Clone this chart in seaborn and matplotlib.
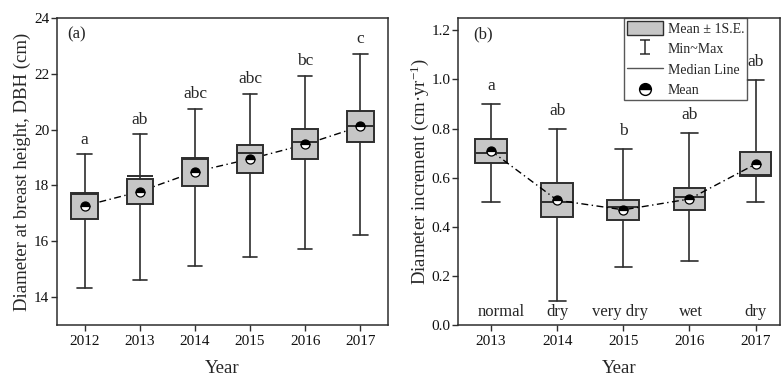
import numpy as np
import pandas as pd
import matplotlib
matplotlib.use("Agg")
import matplotlib.pyplot as plt
import seaborn as sns
from matplotlib.path import Path
from matplotlib.patches import Patch
from matplotlib.lines import Line2D

# ---- panel (a): DBH by year ----
years_a = ["2012", "2013", "2014", "2015", "2016", "2017"]
mean_a = [17.27, 17.78, 18.49, 18.95, 19.47, 20.12]
se_a = [0.465, 0.45, 0.495, 0.51, 0.54, 0.56]
median_a = [17.71, 18.33, 18.94, 19.18, 19.54, 20.12]
min_a = [14.32, 14.62, 15.12, 15.42, 15.73, 16.22]
max_a = [19.12, 19.83, 20.74, 21.29, 21.93, 22.72]
letters_a = ["a", "ab", "abc", "abc", "bc", "c"]

# ---- panel (b): diameter increment by year ----
years_b = ["2013", "2014", "2015", "2016", "2017"]
mean_b = [0.709, 0.508, 0.469, 0.513, 0.655]
se_b = [0.048, 0.0685, 0.0415, 0.0455, 0.050]
median_b = [0.701, 0.499, 0.479, 0.522, 0.609]
min_b = [0.499, 0.099, 0.237, 0.260, 0.499]
max_b = [0.899, 0.800, 0.717, 0.782, 0.999]
letters_b = ["a", "ab", "b", "ab", "ab"]
climate_b = ["normal", "dry", "very dry", "wet", "dry"]

sns.set_theme(style="ticks")
plt.rcParams["font.family"] = ["Liberation Serif", "DejaVu Serif"]
plt.rcParams["mathtext.fontset"] = "custom"
plt.rcParams["mathtext.rm"] = "Liberation Serif"
plt.rcParams["mathtext.default"] = "regular"

EDGE = "#2e2e2e"
FILL = "#c6c6c6"

fig = plt.figure(figsize=(7.82, 3.76), dpi=100)
ax_a = fig.add_axes([57 / 782, 51 / 376, 331 / 782, 307 / 376])
ax_b = fig.add_axes([458 / 782, 51 / 376, 322 / 782, 307 / 376])


def draw_panel(ax, years, mean, se, median, vmin, vmax, line_on_top):
    stats = []
    for m, s, md, lo, hi in zip(mean, se, median, vmin, vmax):
        stats.append(dict(med=md, q1=m - s, q3=m + s, whislo=lo, whishi=hi,
                          mean=m, fliers=[]))
    pos = np.arange(len(years))
    ax.bxp(stats, positions=pos, widths=0.48, patch_artist=True,
           showfliers=False, showmeans=False,
           boxprops=dict(facecolor=FILL, edgecolor=EDGE, linewidth=1.4),
           medianprops=dict(color=EDGE, linewidth=1.4),
           whiskerprops=dict(color=EDGE, linewidth=1.2),
           capprops=dict(color=EDGE, linewidth=1.2),
           capwidths=0.26)
    df = pd.DataFrame({"x": pos, "mean": mean})
    sns.lineplot(data=df, x="x", y="mean", ax=ax, color="black",
                 linewidth=1.0, linestyle=(0, (5, 2.5, 1, 2.5)),
                 zorder=4 if line_on_top else 1)
    ax.plot(pos, mean, linestyle="none", marker="o", markersize=6.5,
            fillstyle="top", markerfacecolor="black",
            markerfacecoloralt="white", markeredgecolor="black",
            markeredgewidth=0.9, zorder=5)
    ax.set_xticks(pos)
    ax.set_xticklabels(years)
    ax.set_xlim(-0.5, len(years) - 0.5)
    for side in ["top", "right", "left", "bottom"]:
        ax.spines[side].set_visible(True)
        ax.spines[side].set_color(EDGE)
        ax.spines[side].set_linewidth(1.1)
    ax.tick_params(direction="out", length=4, width=1.0, color=EDGE,
                   labelsize=11, labelcolor="#111111", pad=3)
    ax.tick_params(axis="y", pad=1.5)
    ax.set_xlabel("Year", fontsize=13.5, labelpad=9)
    return pos


pos_a = draw_panel(ax_a, years_a, mean_a, se_a, median_a, min_a, max_a, False)
ax_a.set_ylim(13, 24)
ax_a.set_yticks([14, 16, 18, 20, 22, 24])
ax_a.set_ylabel("Diameter at breast height, DBH (cm)", fontsize=13.5,
                labelpad=2)
for x, hi, lab in zip(pos_a, max_a, letters_a):
    ax_a.text(x, hi + 0.52, lab, ha="center", va="center", fontsize=12.5)
ax_a.text(0.03, 0.945, "(a)", transform=ax_a.transAxes, fontsize=12,
          ha="left", va="center")

pos_b = draw_panel(ax_b, years_b, mean_b, se_b, median_b, min_b, max_b, True)
ax_b.set_xlim(-0.5, 4.37)
ax_b.set_ylim(0, 1.25)
ax_b.set_yticks([0.0, 0.2, 0.4, 0.6, 0.8, 1.0, 1.2])
ax_b.set_yticklabels([f"{v:.1f}" for v in [0.0, 0.2, 0.4, 0.6, 0.8, 1.0, 1.2]])
ax_b.set_ylabel("Diameter increment (cm\u00b7yr$^{-1}$)", fontsize=13.5,
                labelpad=0)
for x, hi, lab in zip(pos_b, max_b, letters_b):
    ax_b.text(x, hi + 0.073, lab, ha="center", va="center", fontsize=12.5)
clim_x = [0.15, 1.01, 1.95, 3.02, 4.0]
for x, lab in zip(clim_x, climate_b):
    ax_b.text(x, 0.054, lab, ha="center", va="center", fontsize=12)
ax_b.text(0.046, 0.945, "(b)", transform=ax_b.transAxes, fontsize=12,
          ha="left", va="center")

# legend with a capped bar glyph for the range
cap_path = Path([(-0.75, 1), (0.75, 1), (0, 1), (0, -1),
                 (-0.75, -1), (0.75, -1)],
                [Path.MOVETO, Path.LINETO, Path.MOVETO, Path.LINETO,
                 Path.MOVETO, Path.LINETO])
handles = [
    Patch(facecolor=FILL, edgecolor=EDGE, linewidth=1.0),
    Line2D([], [], linestyle="none", marker=cap_path, markersize=10,
           color=EDGE, markeredgewidth=1.1),
    Line2D([], [], color="#555555", linewidth=1.0),
    Line2D([], [], linestyle="none", marker="o", markersize=8.5,
           fillstyle="top", markerfacecolor="black",
           markerfacecoloralt="white", markeredgecolor="black",
           markeredgewidth=1.0),
]
labels = ["Mean \u00b1 1S.E.", "Min~Max", "Median Line", "Mean"]
leg = ax_b.legend(handles, labels, loc="upper left",
                  bbox_to_anchor=(0.515, 1.0), borderaxespad=0,
                  frameon=True, fancybox=False, fontsize=10,
                  handlelength=2.6, handleheight=1.2, labelspacing=0.42,
                  borderpad=0.2, handletextpad=0.35)
leg.get_frame().set_edgecolor(EDGE)
leg.get_frame().set_linewidth(1.0)

fig.savefig("out.png", dpi=100, facecolor="white")
